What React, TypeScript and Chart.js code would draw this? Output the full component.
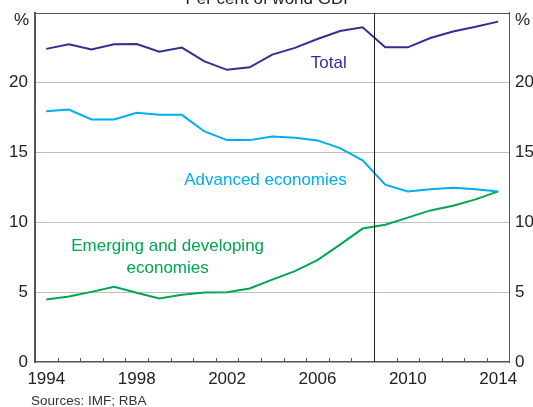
import React, { useEffect, useRef } from "react";
import { Chart, registerables } from "chart.js";

Chart.register(...registerables);

const years = [
  "1994", "1995", "1996", "1997", "1998", "1999", "2000", "2001", "2002", "2003", "2004",
  "2005", "2006", "2007", "2008", "2009", "2010", "2011", "2012", "2013", "2014",
];
const total = [
  22.41, 22.74, 22.36, 22.74, 22.76, 22.21, 22.5, 21.52, 20.91, 21.09, 22.0,
  22.48, 23.12, 23.69, 23.95, 22.52, 22.52, 23.19, 23.66, 24.0, 24.36,
];
const advanced = [
  17.95, 18.07, 17.36, 17.36, 17.84, 17.69, 17.69, 16.5, 15.88, 15.88, 16.14,
  16.05, 15.86, 15.31, 14.43, 12.69, 12.21, 12.36, 12.48, 12.36, 12.21,
];
const emerging = [
  4.48, 4.69, 5.02, 5.38, 4.95, 4.55, 4.81, 4.98, 5.0, 5.26, 5.9,
  6.5, 7.29, 8.4, 9.55, 9.83, 10.33, 10.85, 11.18, 11.64, 12.21,
];
const yTickValues = [0, 5, 10, 15, 20, 25];
const labeledYears = ["1994", "1998", "2002", "2006", "2010", "2014"];
const titleText = "Per cent of world GDP";
const sourceText = "Sources: IMF; RBA";
const unitText = "%";
const breakIndex = 14.5; // between 2008 and 2009

const COL_TOTAL = "#2e3192";
const COL_ADV = "#00aeef";
const COL_EME = "#00a651";
const AXIS = "#555555";
const GRID = "#b8c0c2";
const TEXT = "#222222";
const FONT = "'Liberation Sans', Arial, sans-serif";

const seriesLabels = [
  { lines: ["Total"], x: 12.5, y: [21.4], color: COL_TOTAL },
  { lines: ["Advanced economies"], x: 9.7, y: [13.0], color: COL_ADV },
  { lines: ["Emerging and developing", "economies"], x: 5.37, y: [8.29, 6.71], color: COL_EME },
];

const decorPlugin = {
  id: "decor",
  afterDraw(chart: any) {
    const { ctx, chartArea, scales } = chart;
    const xs = scales.x;
    const ys = scales.y;
    ctx.save();
    ctx.strokeStyle = AXIS;
    ctx.lineWidth = 1;
    for (let i = 1; i < years.length; i++) {
      const px = Math.round(xs.getPixelForValue(i - 0.5)) + 0.5;
      ctx.beginPath();
      ctx.moveTo(px, chartArea.bottom);
      ctx.lineTo(px, chartArea.bottom - 4);
      ctx.stroke();
    }
    const bx = Math.round(xs.getPixelForValue(breakIndex)) + 0.5;
    ctx.strokeStyle = "#222";
    ctx.beginPath();
    ctx.moveTo(bx, chartArea.top);
    ctx.lineTo(bx, chartArea.bottom);
    ctx.stroke();
    ctx.strokeStyle = AXIS;
    ctx.beginPath();
    ctx.moveTo(chartArea.left, Math.round(chartArea.top) + 0.5);
    ctx.lineTo(chartArea.right, Math.round(chartArea.top) + 0.5);
    ctx.stroke();

    ctx.font = `17px ${FONT}`;
    ctx.textAlign = "center";
    ctx.textBaseline = "middle";
    for (const s of seriesLabels) {
      ctx.fillStyle = s.color;
      s.lines.forEach((ln, k) => {
        ctx.fillText(ln, xs.getPixelForValue(s.x), ys.getPixelForValue(s.y[k]));
      });
    }
    ctx.fillStyle = TEXT;
    ctx.textBaseline = "middle";
    ctx.textAlign = "right";
    ctx.fillText(unitText, chartArea.left - 6, chartArea.top + 7.5);
    ctx.textAlign = "left";
    ctx.fillText(unitText, chartArea.right + 5.5, chartArea.top + 7.5);
    ctx.textAlign = "center";
    ctx.textBaseline = "alphabetic";
    ctx.fillText(titleText, 270, 4);
    ctx.font = `13.5px ${FONT}`;
    ctx.textAlign = "left";
    ctx.textBaseline = "middle";
    ctx.fillStyle = "#333";
    ctx.fillText(sourceText, 31, 401);
    ctx.restore();
  },
};

export default function App() {
  const ref = useRef<HTMLCanvasElement | null>(null);
  useEffect(() => {
    if (!ref.current) return;
    const mk = (label: string, data: number[], color: string) => ({
      label,
      data,
      borderColor: color,
      backgroundColor: color,
      borderWidth: 2,
      pointRadius: 0,
      tension: 0,
      fill: false,
    });
    const yTickCfg = {
      color: TEXT,
      font: { size: 17, family: FONT },
      callback: (v: any) => (Number(v) === 25 ? "" : String(v)),
    };
    const chart = new Chart(ref.current, {
      type: "line",
      data: {
        labels: years,
        datasets: [
          mk("Total", total, COL_TOTAL),
          mk("Advanced economies", advanced, COL_ADV),
          mk("Emerging and developing economies", emerging, COL_EME),
        ],
      },
      plugins: [decorPlugin],
      options: {
        responsive: false,
        animation: false,
        devicePixelRatio: 1,
        layout: { padding: { top: 12.7, bottom: 0, left: 0, right: 0 } },
        plugins: { legend: { display: false }, tooltip: { enabled: false }, title: { display: false } },
        scales: {
          x: {
            type: "category",
            offset: true,
            grid: { display: false, drawTicks: false },
            border: { display: true, color: AXIS, width: 1.5 },
            ticks: {
              autoSkip: false,
              maxRotation: 0,
              padding: 7,
              color: TEXT,
              font: { size: 17, family: FONT },
              callback: (_v: any, i: number) => (labeledYears.includes(years[i]) ? years[i] : ""),
            },
            afterFit: (s: any) => {
              s.height = 45;
              s.paddingLeft = 0;
              s.paddingRight = 0;
            },
          },
          y: {
            position: "left",
            min: 0,
            max: 25,
            afterBuildTicks: (s: any) => {
              s.ticks = yTickValues.map((v) => ({ value: v }));
            },
            grid: {
              drawTicks: false,
              color: (c: any) => (c.tick && (c.tick.value === 0 || c.tick.value === 25) ? "rgba(0,0,0,0)" : GRID),
              lineWidth: 1,
            },
            border: { display: true, color: AXIS, width: 2 },
            ticks: { ...yTickCfg, padding: 7 },
            afterFit: (s: any) => {
              s.width = 35;
              s.paddingTop = 0;
              s.paddingBottom = 0;
            },
          },
          y2: {
            position: "right",
            min: 0,
            max: 25,
            afterBuildTicks: (s: any) => {
              s.ticks = yTickValues.map((v) => ({ value: v }));
            },
            grid: { drawOnChartArea: false, drawTicks: false },
            border: { display: true, color: AXIS, width: 1 },
            ticks: { ...yTickCfg, padding: 5.5 },
            afterFit: (s: any) => {
              s.width = 23.5;
              s.paddingTop = 0;
              s.paddingBottom = 0;
            },
          },
        },
      },
    });
    return () => chart.destroy();
  }, []);
  return (
    <div style={{ position: "fixed", left: 0, top: 0, width: 533, height: 407, background: "#fff" }}>
      <canvas ref={ref} width={533} height={407} />
    </div>
  );
}
